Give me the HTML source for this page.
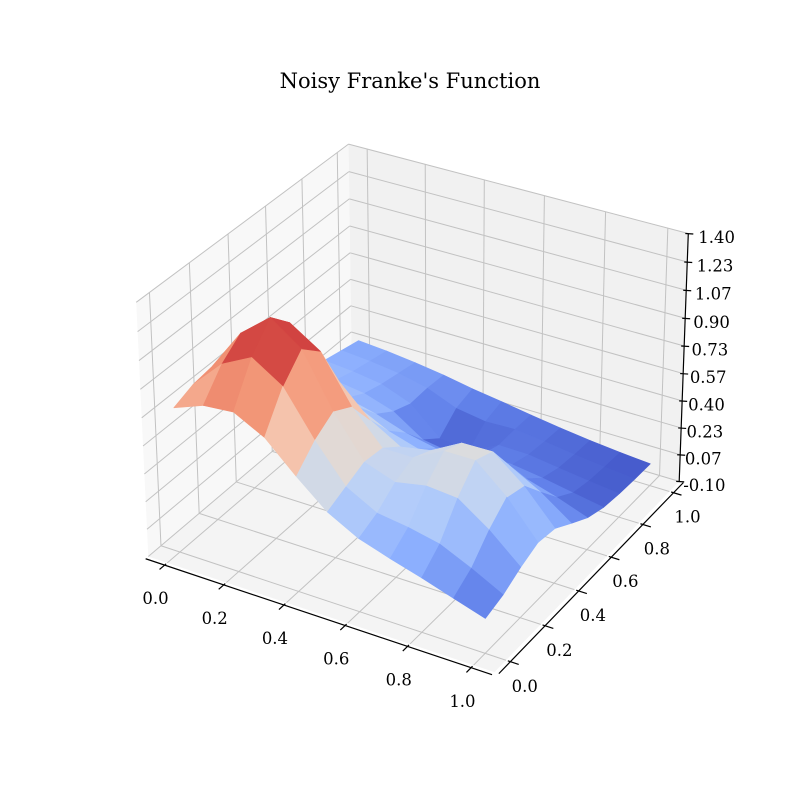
<!DOCTYPE html>
<html><head><meta charset="utf-8"><title>Noisy Franke's Function</title>
<style>html,body{margin:0;padding:0;background:#fff}svg{display:block}text{font-family:"DejaVu Serif","Liberation Serif",serif;fill:#000}</style>
</head><body>
<svg id="chart" width="800" height="800" viewBox="0 0 800 800" xmlns="http://www.w3.org/2000/svg">
<rect width="800" height="800" fill="#fff"/>
<text x="410" y="88" text-anchor="middle" font-size="21">Noisy Franke's Function</text>
<g id="panes"></g>
<g id="grid"></g>
<g id="surface"></g>
<g id="axes"></g>
</svg>
<script>
const xVals=[0,0.1,0.2,0.3,0.4,0.5,0.6,0.7,0.8,0.9,1.0];
const yVals=[0,0.1,0.2,0.3,0.4,0.5,0.6,0.7,0.8,0.9,1.0];
const zGrid=[
[0.767,0.835,0.851,0.758,0.589,0.435,0.337,0.278,0.224,0.165,0.107],
[0.812,0.985,1.076,0.961,0.704,0.485,0.387,0.361,0.322,0.238,0.142],
[0.829,1.076,1.218,1.089,0.778,0.534,0.471,0.507,0.491,0.363,0.202],
[0.752,0.973,1.100,0.985,0.714,0.521,0.520,0.615,0.616,0.457,0.247],
[0.609,0.732,0.795,0.712,0.540,0.434,0.468,0.568,0.572,0.426,0.230],
[0.482,0.518,0.525,0.469,0.380,0.326,0.347,0.400,0.392,0.291,0.161],
[0.402,0.398,0.378,0.334,0.273,0.235,0.233,0.238,0.217,0.161,0.095],
[0.357,0.341,0.315,0.257,0.137,0.108,0.157,0.151,0.125,0.091,0.059],
[0.323,0.307,0.281,0.213,0.050,0.029,0.119,0.116,0.090,0.066,0.045],
[0.296,0.281,0.258,0.218,0.145,0.117,0.123,0.102,0.077,0.056,0.039],
[0.270,0.256,0.235,0.209,0.176,0.149,0.120,0.093,0.070,0.051,0.036]];
const xTickVals=[0,0.2,0.4,0.6,0.8,1.0];
const xTickLabels=["0.0","0.2","0.4","0.6","0.8","1.0"];
const yTickVals=[0,0.2,0.4,0.6,0.8,1.0];
const yTickLabels=["0.0","0.2","0.4","0.6","0.8","1.0"];
const zTickVals=[-0.1,0.0667,0.2333,0.4,0.5667,0.7333,0.9,1.0667,1.2333,1.4];
const zTickLabels=["-0.10","0.07","0.23","0.40","0.57","0.73","0.90","1.07","1.23","1.40"];

const NS="http://www.w3.org/2000/svg";
const PAD=0.065, ZMIN=-0.1, ZMAX=1.4, VMIN=0.0, VMAX=1.2;
const L=[[0,0,0,148,556],[1,0,0,495,672],[1,1,0,679,482],[0,0,1,136,303],[0,1,1,349,144],[1,1,1,688,233]];
const A=[],B=[];
L.forEach(p=>{const [X,Y,Z]=p,x=p[3]/800,y=p[4]/800;
 A.push([X,Y,Z,1,0,0,0,0,-x*X,-x*Y,-x*Z]);B.push(x);
 A.push([0,0,0,0,X,Y,Z,1,-y*X,-y*Y,-y*Z]);B.push(y);});
const n=11,N=[],r=[];
for(let i=0;i<n;i++){N.push(new Array(n).fill(0));r.push(0);
 for(let k=0;k<A.length;k++){r[i]+=A[k][i]*B[k];for(let j=0;j<n;j++)N[i][j]+=A[k][i]*A[k][j];}}
for(let i=0;i<n;i++){let mx=i;for(let k=i+1;k<n;k++)if(Math.abs(N[k][i])>Math.abs(N[mx][i]))mx=k;
 [N[i],N[mx]]=[N[mx],N[i]];[r[i],r[mx]]=[r[mx],r[i]];
 for(let k=0;k<n;k++){if(k===i)continue;const f=N[k][i]/N[i][i];for(let j=i;j<n;j++)N[k][j]-=f*N[i][j];r[k]-=f*r[i];}}
const m=r.map((v,i)=>v/N[i][i]);
function projP(u,v,w){const h=m[8]*u+m[9]*v+m[10]*w+1;
 return [(m[0]*u+m[1]*v+m[2]*w+m[3])/h*800,(m[4]*u+m[5]*v+m[6]*w+m[7])/h*800,h];}
const sx=x=>(x+PAD)/(1+2*PAD), sy=y=>(y+PAD)/(1+2*PAD), sz=z=>(z-ZMIN)/(ZMAX-ZMIN);
function proj(x,y,z){return projP(sx(x),sy(y),sz(z));}
const depthSign=(projP(1,0,0)[2]<projP(0,1,1)[2])?1:-1;

function line(g,p,q,stroke,w,name){const l=document.createElementNS(NS,'line');
 l.setAttribute('x1',p[0]);l.setAttribute('y1',p[1]);l.setAttribute('x2',q[0]);l.setAttribute('y2',q[1]);
 l.setAttribute('stroke',stroke);l.setAttribute('stroke-width',w);
 
 
 g.appendChild(l);return l;}
function poly(g,pts,fill,name){const pg=document.createElementNS(NS,'polygon');
 pg.setAttribute('points',pts.map(p=>p[0].toFixed(2)+','+p[1].toFixed(2)).join(' '));
 pg.setAttribute('fill',fill);
 
 
 g.appendChild(pg);return pg;}
function text(g,x,y,s,anchor,name){const t=document.createElementNS(NS,'text');
 t.setAttribute('x',x);t.setAttribute('y',y);t.setAttribute('font-size','16.5');
 t.setAttribute('text-anchor',anchor);t.setAttribute('dominant-baseline','central');t.textContent=s;
 
 
 g.appendChild(t);}

const gP=document.getElementById('panes'),gG=document.getElementById('grid'),gS=document.getElementById('surface'),gA=document.getElementById('axes');
poly(gP,[projP(0,0,0),projP(0,1,0),projP(0,1,1),projP(0,0,1)],'#f8f8f8','left-pane');
poly(gP,[projP(0,1,0),projP(1,1,0),projP(1,1,1),projP(0,1,1)],'#f1f1f1','back-pane');
poly(gP,[projP(0,0,0),projP(1,0,0),projP(1,1,0),projP(0,1,0)],'#f4f4f4','floor-pane');

const GC='#c2c2c2';
xTickVals.forEach(x=>{const u=sx(x);
 line(gG,projP(u,0,0),projP(u,1,0),GC,1,'floor-gridline-x');
 line(gG,projP(u,1,0),projP(u,1,1),GC,1,'back-gridline-x');});
yTickVals.forEach(y=>{const v=sy(y);
 line(gG,projP(0,v,0),projP(1,v,0),GC,1,'floor-gridline-y');
 line(gG,projP(0,v,0),projP(0,v,1),GC,1,'left-gridline-y');});
zTickVals.forEach(z=>{const w=sz(z);
 line(gG,projP(0,0,w),projP(0,1,w),GC,1,'left-gridline-z');
 line(gG,projP(0,1,w),projP(1,1,w),GC,1,'back-gridline-z');});

const CM=[[59,76,192],[98,130,234],[141,176,254],[184,208,249],[221,221,221],[245,196,173],[244,154,123],[222,96,77],[180,4,38]];
function cmap(z){let t=(z-VMIN)/(VMAX-VMIN);t=Math.max(0,Math.min(1,t));const s=t*8,i=Math.min(7,Math.floor(s)),f=s-i;
 const c=CM[i].map((v,k)=>Math.round(v+(CM[i+1][k]-v)*f));return 'rgb('+c.join(',')+')';}
const quads=[];
for(let j=0;j<yVals.length-1;j++)for(let i=0;i<xVals.length-1;i++){
 const c=[[i,j],[i+1,j],[i+1,j+1],[i,j+1]];
 const pts=c.map(([a,b])=>proj(xVals[a],yVals[b],zGrid[b][a]));
 const zm=c.reduce((s,[a,b])=>s+zGrid[b][a],0)/4;
 const d=pts.reduce((s,p)=>s+p[2],0)/4;
 quads.push({pts,zm,d});}
quads.sort((a,b)=>depthSign*(b.d-a.d));
quads.forEach(q=>{const pg=poly(gS,q.pts,cmap(q.zm),'surface-patch');pg.setAttribute('stroke',cmap(q.zm));pg.setAttribute('stroke-width','0.6');pg.setAttribute('stroke-linejoin','round');});

line(gA,projP(0,-0.012,0),projP(1,-0.012,0),'#000',1.2,'x-axis-line');
line(gA,projP(1.012,0,0),projP(1.012,1,0),'#000',1.2,'y-axis-line');
line(gA,projP(1,1,0),projP(1,1,1),'#000',1.2,'z-axis-line');
xTickVals.forEach((x,i)=>{const u=sx(x);const p=projP(u,-0.035,0);
 line(gA,projP(u,-0.005,0),p,'#000',1.2,'x-tick');
 text(gA,p[0]-4,p[1]+29,xTickLabels[i],'middle','x-tick-label');});
yTickVals.forEach((y,i)=>{const v=sy(y);const p=projP(1.035,v,0);
 line(gA,projP(1.005,v,0),p,'#000',1.2,'y-tick');
 text(gA,p[0]+6,p[1]+22,yTickLabels[i],'middle','y-tick-label');});
zTickVals.forEach((z,i)=>{const w=sz(z);const p=projP(1,1,w);
 line(gA,[p[0]-3,p[1]],[p[0]+5,p[1]+0.5],'#000',1.2,'z-tick');
 text(gA,p[0]+4+6*w,p[1]+4,zTickLabels[i],'start','z-tick-label');});
</script>
</body></html>
